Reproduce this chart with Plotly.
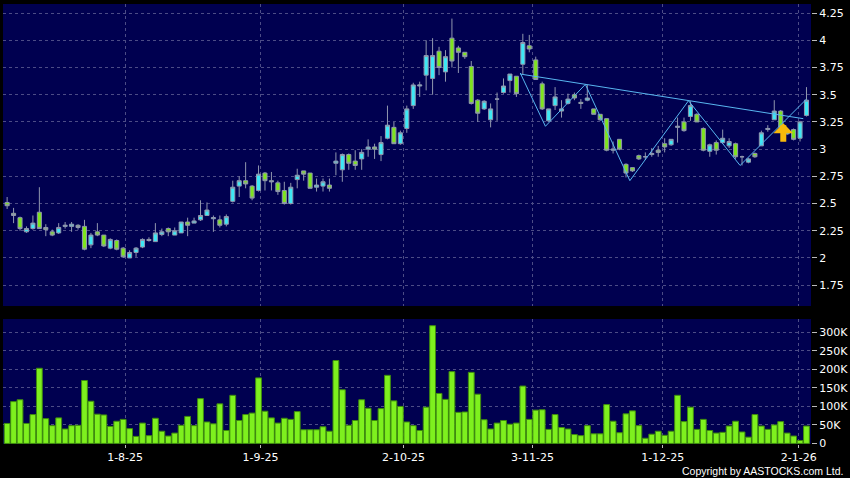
import plotly.graph_objects as go

# ---- data -------------------------------------------------------------
tick_labels = ["1-8-25", "1-9-25", "2-10-25", "3-11-25", "1-12-25", "2-1-26"]
tick_pos = [18.3, 39.3, 61.5, 81.5, 101.7, 122.8]

open_ = [2.51, 2.41, 2.37, 2.24, 2.27, 2.42, 2.28, 2.24, 2.23, 2.29,
         2.29, 2.30, 2.29, 2.12, 2.24, 2.21, 2.09, 2.16, 2.09, 2.00,
         2.05, 2.10, 2.17, 2.15, 2.215, 2.27, 2.21, 2.23, 2.33, 2.32,
         2.35, 2.39, 2.36, 2.35, 2.31, 2.52, 2.66, 2.71, 2.66, 2.62,
         2.78, 2.71, 2.69, 2.62, 2.50, 2.72, 2.80, 2.78, 2.65, 2.66,
         2.67, 2.87, 2.81, 2.95, 2.89, 2.91, 3.00, 3.02, 2.95, 3.10,
         3.20, 3.05, 3.19, 3.40, 3.58, 3.68, 3.65, 3.90, 3.71, 4.02,
         3.93, 3.89, 3.76, 3.45, 3.37, 3.27, 3.46, 3.52, 3.63, 3.67,
         3.78, 3.95, 3.82, 3.60, 3.26, 3.40, 3.35, 3.42, 3.50, 3.43,
         3.45, 3.37, 3.32, 3.28, 2.99, 3.09, 2.86, 2.83, 2.94, 2.93,
         2.95, 2.99, 3.05, 3.04, 3.20, 3.25, 3.30, 3.32, 3.19, 2.98,
         3.06, 3.06, 3.03, 3.05, 2.93, 2.88, 2.96, 3.03, 3.18, 3.27,
         3.35, 3.14, 3.18, 3.10, 3.31]
high = [2.56, 2.46, 2.38, 2.29, 2.39, 2.65, 2.31, 2.26, 2.32, 2.33,
        2.33, 2.31, 2.35, 2.23, 2.32, 2.21, 2.18, 2.17, 2.10, 2.07,
        2.10, 2.18, 2.19, 2.32, 2.27, 2.28, 2.28, 2.33, 2.37, 2.37,
        2.53, 2.51, 2.39, 2.39, 2.40, 2.71, 2.75, 2.88, 2.67, 2.85,
        2.79, 2.79, 2.71, 2.70, 2.69, 2.82, 2.80, 2.78, 2.73, 2.73,
        2.73, 2.97, 2.96, 2.96, 2.99, 3.00, 3.09, 3.05, 3.12, 3.40,
        3.25, 3.17, 3.40, 3.61, 3.62, 4.00, 4.02, 3.94, 3.91, 4.20,
        3.95, 3.89, 3.81, 3.46, 3.45, 3.42, 3.52, 3.65, 3.69, 3.67,
        4.06, 4.05, 3.85, 3.62, 3.37, 3.57, 3.45, 3.51, 3.52, 3.46,
        3.59, 3.37, 3.32, 3.28, 3.07, 3.09, 2.87, 2.83, 2.95, 2.97,
        3.01, 3.03, 3.10, 3.09, 3.29, 3.29, 3.44, 3.33, 3.20, 3.05,
        3.08, 3.18, 3.10, 3.06, 2.94, 2.92, 2.97, 3.17, 3.22, 3.45,
        3.36, 3.18, 3.19, 3.26, 3.57]
low = [2.45, 2.32, 2.25, 2.23, 2.26, 2.27, 2.20, 2.20, 2.22, 2.27,
       2.24, 2.26, 2.07, 2.09, 2.20, 2.10, 2.08, 2.07, 2.00, 2.00,
       2.01, 2.09, 2.15, 2.15, 2.20, 2.20, 2.21, 2.23, 2.20, 2.32,
       2.34, 2.39, 2.24, 2.28, 2.29, 2.51, 2.56, 2.64, 2.53, 2.61,
       2.62, 2.62, 2.58, 2.49, 2.49, 2.64, 2.71, 2.64, 2.61, 2.61,
       2.61, 2.76, 2.70, 2.81, 2.81, 2.81, 2.93, 2.91, 2.89, 3.09,
       3.05, 3.04, 3.15, 3.37, 3.48, 3.54, 3.50, 3.68, 3.62, 3.75,
       3.70, 3.83, 3.41, 3.25, 3.36, 3.20, 3.26, 3.51, 3.52, 3.48,
       3.69, 3.89, 3.64, 3.36, 3.25, 3.36, 3.29, 3.41, 3.45, 3.37,
       3.44, 3.32, 3.26, 2.98, 2.96, 2.99, 2.74, 2.79, 2.90, 2.90,
       2.93, 2.93, 2.97, 3.03, 3.06, 3.16, 3.26, 3.25, 2.98, 2.93,
       2.95, 3.05, 3.01, 2.91, 2.85, 2.87, 2.92, 3.03, 3.16, 3.27,
       3.17, 3.13, 3.08, 3.07, 3.30]
close = [2.48, 2.39, 2.27, 2.27, 2.32, 2.27, 2.26, 2.21, 2.28, 2.30,
         2.31, 2.28, 2.08, 2.21, 2.21, 2.11, 2.17, 2.08, 2.01, 2.05,
         2.09, 2.17, 2.16, 2.23, 2.24, 2.24, 2.25, 2.33, 2.30, 2.34,
         2.39, 2.44, 2.37, 2.30, 2.38, 2.65, 2.71, 2.68, 2.55, 2.77,
         2.71, 2.70, 2.61, 2.50, 2.65, 2.76, 2.77, 2.64, 2.67, 2.70,
         2.64, 2.89, 2.95, 2.87, 2.85, 2.97, 3.02, 3.00, 3.06, 3.22,
         3.05, 3.15, 3.37, 3.59, 3.59, 3.86, 3.86, 3.75, 3.85, 3.81,
         3.89, 3.85, 3.42, 3.33, 3.44, 3.37, 3.46, 3.58, 3.69, 3.51,
         3.98, 3.92, 3.64, 3.37, 3.37, 3.48, 3.37, 3.46, 3.47, 3.42,
         3.47, 3.32, 3.27, 2.99, 3.00, 3.00, 2.78, 2.80, 2.91, 2.93,
         2.96, 2.97, 3.02, 3.09, 3.21, 3.17, 3.40, 3.25, 2.99, 3.04,
         2.99, 3.10, 3.07, 2.93, 2.93, 2.91, 2.93, 3.15, 3.19, 3.35,
         3.20, 3.17, 3.09, 3.25, 3.45]
volume = [54, 113, 118, 54, 78, 203, 67, 48, 69, 39,
          48, 49, 170, 114, 79, 77, 46, 60, 65, 40,
          19, 55, 21, 68, 33, 20, 28, 49, 73, 48,
          121, 58, 53, 107, 35, 130, 62, 78, 82, 177,
          87, 69, 55, 68, 65, 86, 37, 37, 37, 45,
          33, 224, 145, 49, 62, 118, 95, 62, 94, 184,
          115, 100, 58, 48, 35, 98, 318, 135, 119, 194,
          84, 85, 192, 133, 64, 39, 55, 62, 52, 55,
          155, 65, 90, 91, 38, 78, 43, 39, 24, 21,
          48, 26, 26, 105, 60, 29, 80, 88, 48, 14,
          25, 33, 22, 33, 130, 59, 98, 38, 65, 35,
          28, 30, 47, 60, 31, 17, 78, 47, 38, 50,
          59, 28, 20, 8, 47]
volume = [v * 1000 for v in volume]
x = list(range(len(close)))

# pattern lines (bar index, price)
zigzag_x = [79.6, 83.5, 89.7, 96.6, 105.7, 113.7, 124.0]
zigzag_y = [3.70, 3.21, 3.595, 2.71, 3.445, 2.85, 3.46]
trend_x = [79.6, 123.5]
trend_y = [3.69, 3.28]
signal_x = 120.4
signal_y = 3.237

price_ticks = [1.75, 2, 2.25, 2.5, 2.75, 3, 3.25, 3.5, 3.75, 4, 4.25]
vol_ticks = [0, 50000, 100000, 150000, 200000, 250000, 300000]
vol_tick_text = ["0", "50K", "100K", "150K", "200K", "250K", "300K"]

# ---- figure -----------------------------------------------------------
FONT = "DejaVu Sans"
GRID = "#4C4C86"
DASH = "3px,3px"
fig = go.Figure()

fig.add_trace(go.Candlestick(
    x=x, open=open_, high=high, low=low, close=close,
    xaxis="x", yaxis="y",
    increasing=dict(fillcolor="#3DE8F5", line=dict(color="#9097AE", width=1)),
    decreasing=dict(fillcolor="#7EE41E", line=dict(color="#9097AE", width=1)),
    whiskerwidth=0, showlegend=False, hoverinfo="skip",
))
fig.add_trace(go.Scatter(
    x=trend_x, y=trend_y, mode="lines", xaxis="x", yaxis="y",
    line=dict(color="#58B6F0", width=1), showlegend=False, hoverinfo="skip",
))
fig.add_trace(go.Scatter(
    x=zigzag_x, y=zigzag_y, mode="lines", xaxis="x", yaxis="y",
    line=dict(color="#58B6F0", width=1), showlegend=False, hoverinfo="skip",
))
fig.add_trace(go.Bar(
    x=x, y=volume, xaxis="x2", yaxis="y2",
    marker=dict(color="#7EF01E", line=dict(color="#3F8C0E", width=1)),
    showlegend=False, hoverinfo="skip",
))

axis_font = dict(family=FONT, size=11, color="#FFFFFF")

fig.update_layout(
    width=850, height=478,
    paper_bgcolor="#000000", plot_bgcolor="#000050",
    margin=dict(l=3, r=39, t=4, b=34),
    bargap=0.1, boxgap=0.1,
    hovermode=False,
    font=dict(family=FONT, size=11, color="#FFFFFF"),
    xaxis=dict(
        domain=[0, 1], anchor="y", range=[-0.64, 124.7],
        tickvals=tick_pos, showticklabels=False, ticks="",
        showgrid=True, gridcolor=GRID, griddash=DASH, gridwidth=1,
        zeroline=False, showline=False, rangeslider=dict(visible=False),
    ),
    yaxis=dict(
        domain=[0.3136, 1], anchor="x", side="right",
        range=[1.558, 4.334], tickvals=price_ticks,
        showgrid=True, gridcolor=GRID, griddash=DASH, gridwidth=1,
        ticks="outside", ticklen=5, tickcolor="#BBBBBB",
        tickfont=axis_font, zeroline=False, showline=False,
    ),
    xaxis2=dict(
        domain=[0, 1], anchor="y2", range=[-0.64, 124.7],
        tickvals=tick_pos, ticktext=tick_labels,
        showgrid=True, gridcolor=GRID, griddash=DASH, gridwidth=1,
        ticks="outside", ticklen=3, tickcolor="#BBBBBB",
        tickfont=axis_font, zeroline=False, showline=False,
    ),
    yaxis2=dict(
        domain=[0, 0.284], anchor="x2", side="right",
        range=[-1500, 336000], tickvals=vol_ticks, ticktext=vol_tick_text,
        showgrid=True, gridcolor=GRID, griddash=DASH, gridwidth=1,
        ticks="outside", ticklen=5, tickcolor="#BBBBBB",
        tickfont=axis_font, zeroline=False, showline=False,
    ),
    annotations=[
        dict(
            x=signal_x, y=signal_y, xref="x", yref="y", text="",
            showarrow=True, ax=0, ay=20, arrowhead=1, arrowsize=0.55,
            arrowwidth=6, arrowcolor="#F7B90C",
        ),
        dict(
            text="Copyright by AASTOCKS.com Ltd.", xref="paper", yref="paper",
            x=1.042, y=-0.061, xanchor="right", yanchor="middle",
            showarrow=False,
            font=dict(family="Liberation Sans", size=10.5, color="#FFFFFF"),
        ),
    ],
)

fig.write_html(
    "out.html",
    config={"displayModeBar": False, "staticPlot": True},
    post_script="document.body.style.margin='0';document.body.style.background='#000';",
)
